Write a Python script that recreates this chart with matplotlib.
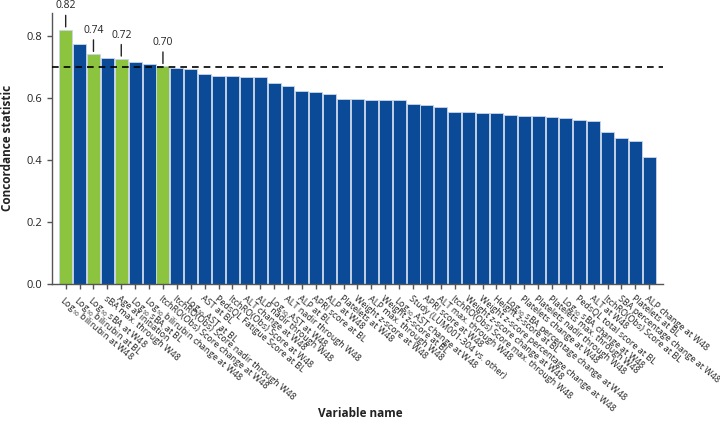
import matplotlib
matplotlib.use("Agg")
import matplotlib.pyplot as plt
import matplotlib.transforms as mtransforms
import numpy as np

plt.rcParams['font.family'] = ['Open Sans', 'DejaVu Sans']
plt.rcParams['mathtext.fontset'] = 'custom'
plt.rcParams['mathtext.rm'] = 'Open Sans'
plt.rcParams['mathtext.it'] = 'Open Sans'
plt.rcParams['mathtext.bf'] = 'Open Sans:bold'

L = "Log$_{10}$"
labels = [
    f"{L} bilirubin at W48", f"{L} bilirubin at BL", f"{L} sBA at W48",
    "sBA max. through W48", "Age at initiation", f"{L} sBA at BL",
    f"{L} bilirubin change at W48", "ItchRO(Obs) Score change at W48",
    "ItchRO(Obs) Score nadir through W48", f"{L} AST at BL", "AST at BL",
    "PedsQL Fatigue Score at BL", "ItchRO(Obs) Score at W48", "ALT change at W48",
    "ALP nadir through W48", f"{L} AST at W48", "ALT nadir through W48",
    "ALP at BL", "APRI score at BL", "ALP at W48", "Platelets at W48",
    "Weight z-score at W48", "ALP max. through W48", "Weight z-score at BL",
    f"{L} AST change at W48", "Study (LUM001-304 vs. other)", "APRI score at W48",
    "ALT max. through W48", "ItchRO(Obs) Score max. through W48",
    "Weight z-score change at W48", "Weight z-score percentage change at W48",
    "Height z-score at BL", f"{L} sBA percentage change at W48",
    "Platelets change at W48", "Platelets nadir through W48",
    "Platelets max. through W48", f"{L} sBA change at W48",
    "PedsQL total score at BL", "ALT at W48", "ItchRO(Obs) Score at BL",
    "SBA percentage change at W48", "Platelets at BL", "ALP change at W48",
]
values = [
    0.819, 0.772, 0.740, 0.728, 0.725, 0.716, 0.709, 0.701, 0.697, 0.692,
    0.675, 0.671, 0.669, 0.667, 0.667, 0.647, 0.639, 0.622, 0.618, 0.612,
    0.597, 0.597, 0.593, 0.593, 0.593, 0.579, 0.576, 0.569, 0.555, 0.555,
    0.552, 0.552, 0.544, 0.542, 0.541, 0.537, 0.533, 0.529, 0.526, 0.489,
    0.469, 0.460, 0.409,
]
highlighted = [0, 2, 4, 7]
annot_text = ["0.82", "0.74", "0.72", "0.70"]
threshold = 0.70

GREEN = "#8cc43f"
BLUE = "#0a4a97"
colors = [GREEN if i in highlighted else BLUE for i in range(len(values))]

fig = plt.figure(figsize=(7.2, 4.29), dpi=100)
ax = fig.add_axes([0.0725, 0.338, 0.848, 0.632])

x = np.arange(len(values))
ax.bar(x, values, width=0.93, color=colors, edgecolor="#c9d6ea", linewidth=0.6, zorder=2)
ax.axhline(threshold, color="black", linestyle=(0, (4, 3)), linewidth=1.2, zorder=3)

for i, t in zip(highlighted, annot_text):
    v = values[i]
    ax.annotate("", xy=(i, v), xytext=(i, v + 0.055),
                arrowprops=dict(arrowstyle="-", color="#222222", lw=1.0))
    ax.text(i, v + 0.059, t, ha="center", va="bottom", fontsize=7.5, color="#222222")

ax.set_xlim(-0.97, len(values) - 0.03)
ax.set_ylim(0, 0.873)
ax.set_yticks([0.0, 0.2, 0.4, 0.6, 0.8])
ax.set_yticklabels(["0.0", "0.2", "0.4", "0.6", "0.8"], fontsize=8)
ax.set_xticks(x)
ax.set_xticklabels(labels, rotation=-40, ha="left", va="top",
                   rotation_mode="anchor", fontsize=6.5, color="#222222")
offset = mtransforms.ScaledTranslation(-4 / 100, -1 / 100, fig.dpi_scale_trans)
for lab in ax.get_xticklabels():
    lab.set_transform(lab.get_transform() + offset)

for s in ["top", "right"]:
    ax.spines[s].set_visible(False)
for s in ["left", "bottom"]:
    ax.spines[s].set_color("#555555")
    ax.spines[s].set_linewidth(1.0)
ax.tick_params(axis="both", colors="#555555", labelcolor="#222222", length=3.5, width=1.0)

ax.set_ylabel("Concordance statistic", fontsize=8.5, fontweight="bold", color="#222222", labelpad=9)
fig.text(0.5, 0.022, "Variable name", ha="center", va="bottom", fontsize=8.5,
         fontweight="bold", color="#222222")

fig.savefig("out.png", dpi=100)
